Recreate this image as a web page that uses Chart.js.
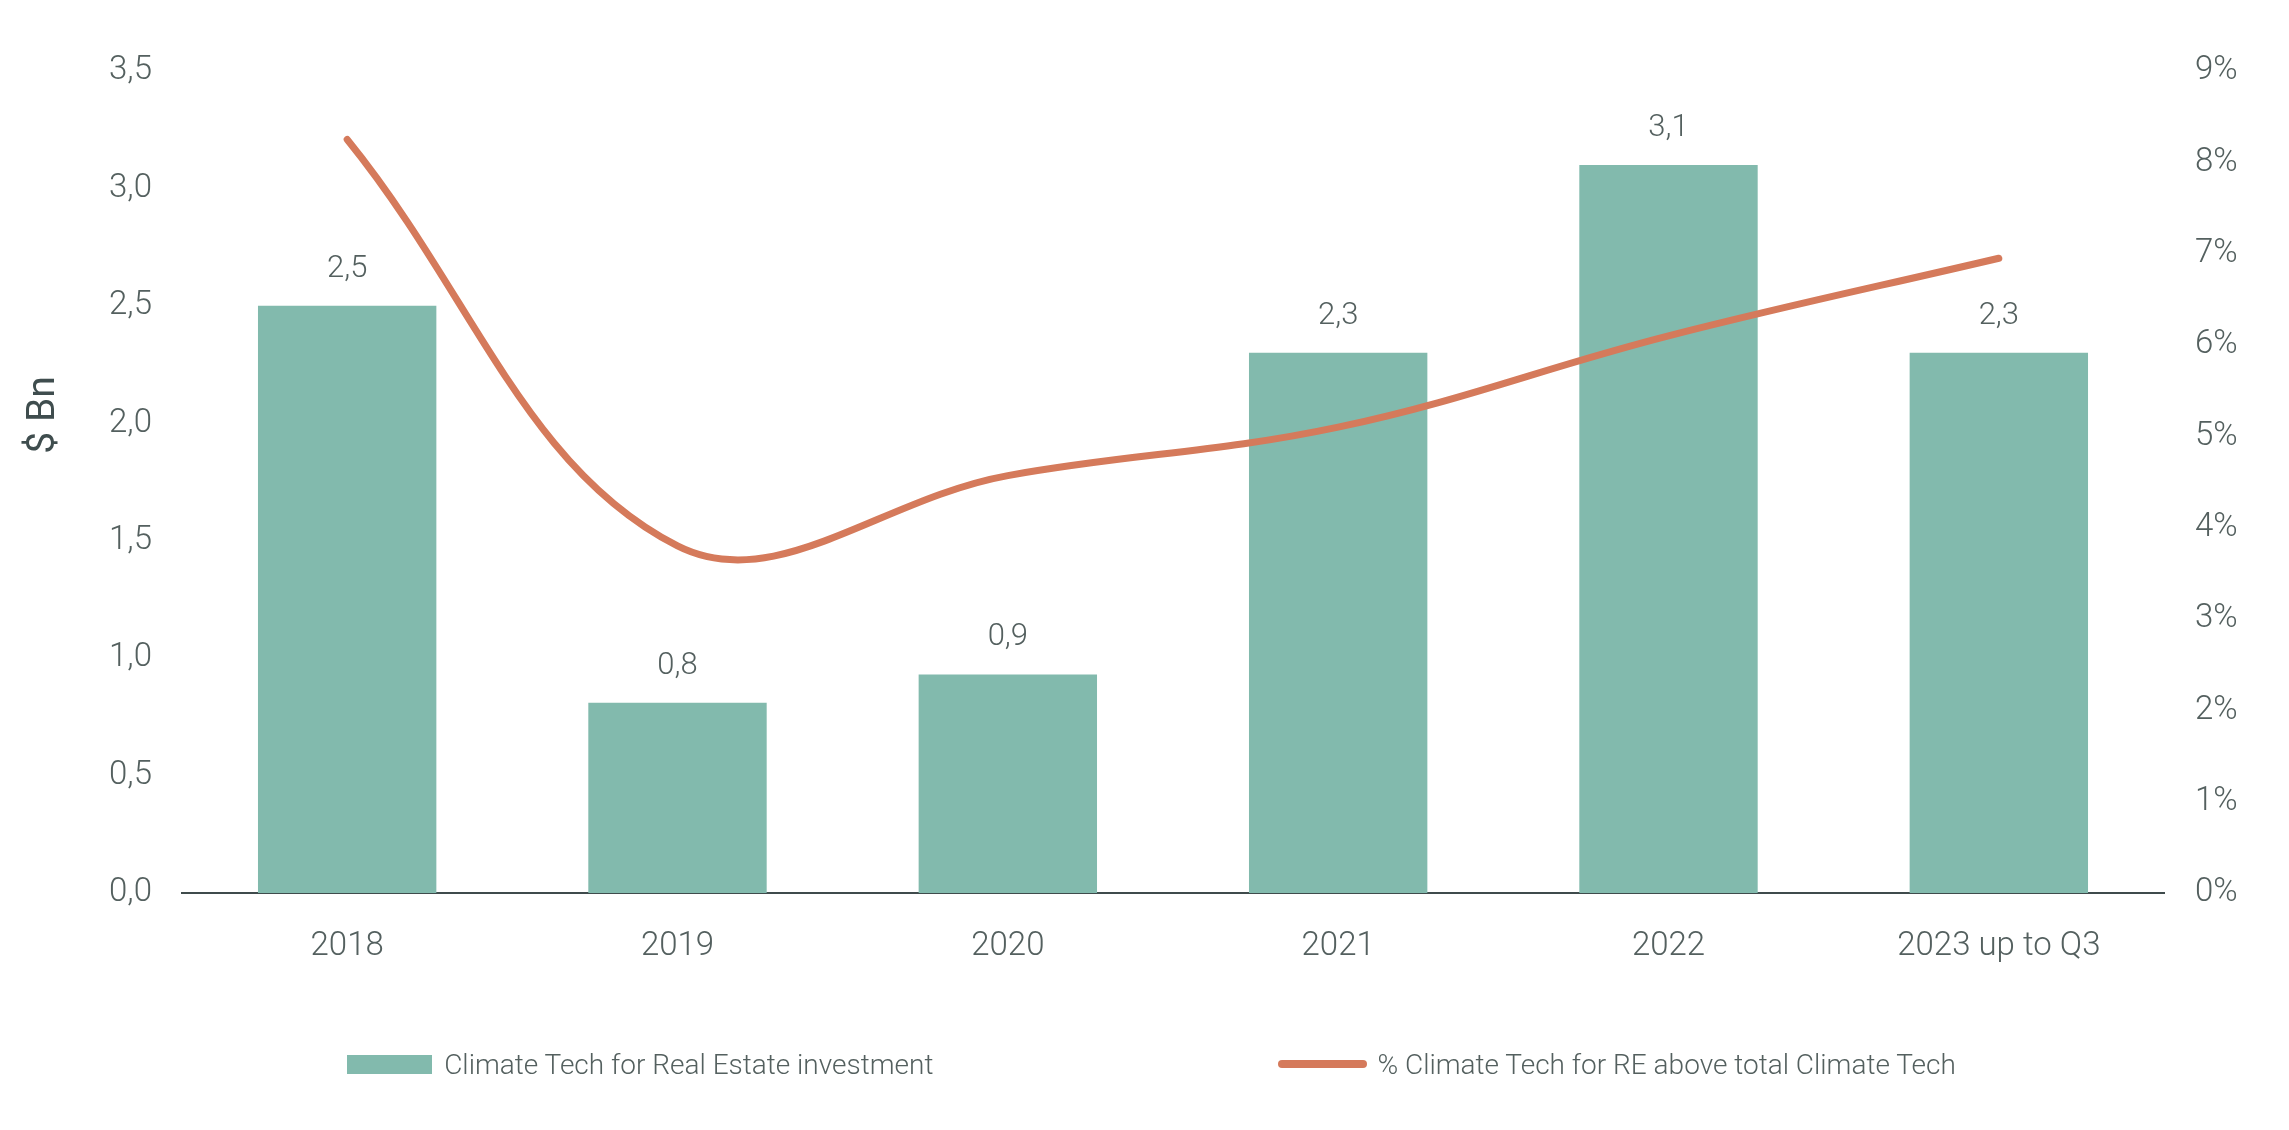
<!DOCTYPE html>
<html lang="en">
<head>
    <meta charset="UTF-8">
    <title>Climate Tech for Real Estate investment</title>
    <script src="https://cdn.jsdelivr.net/npm/chart.js"></script>
    <style>
        body { margin: 0; background: #fff; font-family: Roboto, sans-serif; }
        #wrap { position: relative; width: 2289px; height: 1130px; }
        #legend {
            position: absolute; left: 14px; right: 0; top: 1044px; height: 40px;
            display: flex; justify-content: center; align-items: center; gap: 345px;
            font-weight: 300; font-size: 28px; color: #54605f;
        }
        .item { display: flex; align-items: center; }
        .box { width: 85px; height: 19px; background: #82baad; margin-right: 12px; }
        .ln { width: 89px; height: 8px; border-radius: 4px; background: #d57a5b; margin-right: 10px; }
    </style>
</head>
<body>
<div id="wrap">
    <canvas id="chart"></canvas>
    <div id="legend">
        <div class="item"><span class="box"></span><span>Climate Tech for Real Estate investment</span></div>
        <div class="item"><span class="ln"></span><span>% Climate Tech for RE above total Climate Tech</span></div>
    </div>
</div>

<script>
    const years = ['2018', '2019', '2020', '2021', '2022', '2023 up to Q3'];
    const investment = [2.5, 0.81, 0.93, 2.3, 3.1, 2.3];         // $ Bn
    const shareOfClimateTech = [8.25, 3.8, 4.57, 5.1, 6.1, 6.95]; // %

    const textColor = '#54605f';
    const fmt = v => v.toFixed(1).replace('.', ',');

    // value labels above the bars
    const barLabels = {
        id: 'barLabels',
        afterDatasetsDraw(chart) {
            const meta = chart.getDatasetMeta(0);
            const ctx = chart.ctx;
            ctx.save();
            ctx.font = '300 31px Roboto';
            ctx.fillStyle = textColor;
            ctx.textAlign = 'center';
            ctx.textBaseline = 'middle';
            meta.data.forEach((bar, i) => {
                ctx.fillText(fmt(investment[i]), bar.x, bar.y - 37);
            });
            ctx.restore();
        }
    };

    // left axis title sits a little above the middle of the axis
    const axisTitle = {
        id: 'axisTitle',
        afterDraw(chart) {
            const { ctx, chartArea } = chart;
            ctx.save();
            ctx.translate(44, (chartArea.top + chartArea.bottom) / 2 - 67);
            ctx.rotate(-Math.PI / 2);
            ctx.font = '400 39px Roboto';
            ctx.fillStyle = '#3f4d4e';
            ctx.textAlign = 'center';
            ctx.textBaseline = 'middle';
            ctx.fillText('$ Bn', 0, 0);
            ctx.restore();
        }
    };

    const tickFont = { family: 'Roboto', size: 33, weight: 300 };

    new Chart(document.getElementById('chart'), {
        data: {
            labels: years,
            datasets: [
                {
                    type: 'bar',
                    label: 'Climate Tech for Real Estate investment',
                    data: investment,
                    backgroundColor: '#82baad',
                    categoryPercentage: 1,
                    barPercentage: 0.54,
                    yAxisID: 'y',
                    order: 2
                },
                {
                    type: 'line',
                    label: '% Climate Tech for RE above total Climate Tech',
                    data: shareOfClimateTech,
                    borderColor: '#d57a5b',
                    borderWidth: 7,
                    borderCapStyle: 'round',
                    tension: 0.38,
                    pointRadius: 0,
                    yAxisID: 'y1',
                    order: 1
                }
            ]
        },
        options: {
            responsive: true,
            maintainAspectRatio: false,
            animation: false,
            layout: { padding: { top: 71, left: 14, right: 0, bottom: 0 } },
            plugins: { legend: { display: false }, tooltip: { enabled: false } },
            scales: {
                x: {
                    grid: { display: false },
                    border: { display: true, color: '#3f4b4c', width: 2 },
                    ticks: { color: textColor, font: tickFont, padding: 26 },
                    afterFit: s => { s.height = 237; }
                },
                y: {
                    position: 'left',
                    min: 0, max: 3.5,
                    grid: { display: false },
                    border: { display: false },
                    ticks: { stepSize: 0.5, color: textColor, padding: 22, font: tickFont, callback: v => fmt(v) },
                    afterFit: s => { s.width = 168; }
                },
                y1: {
                    position: 'right',
                    min: 0, max: 9,
                    grid: { display: false },
                    border: { display: false },
                    ticks: { stepSize: 1, color: textColor, padding: 23, font: tickFont, callback: v => v + '%' },
                    afterFit: s => { s.width = 125; }
                }
            }
        },
        plugins: [barLabels, axisTitle]
    });
</script>
</body>
</html>
